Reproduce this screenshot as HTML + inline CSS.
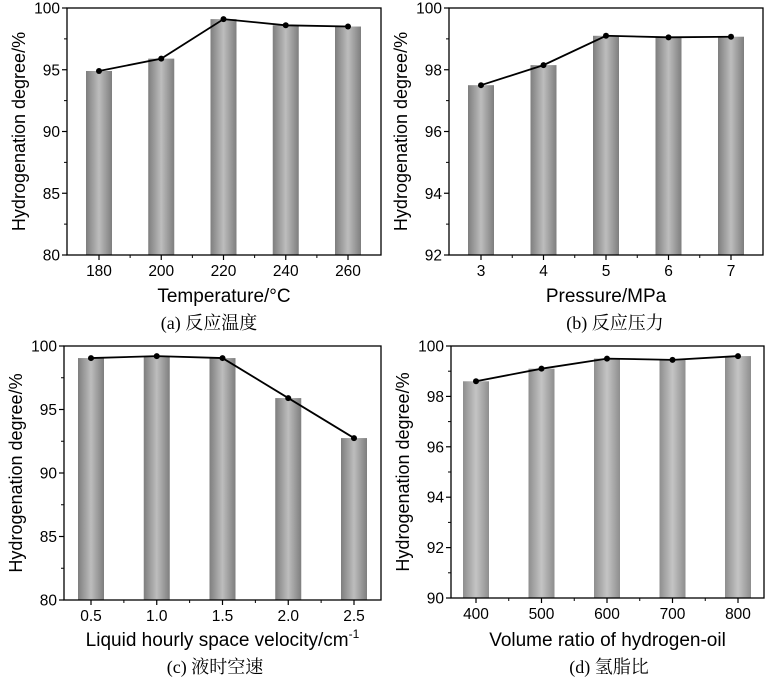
<!DOCTYPE html>
<html><head><meta charset="utf-8">
<style>
html,body{margin:0;padding:0;background:#fff;}
svg{display:block;}
text{font-family:"Liberation Sans",Arial,sans-serif;fill:#000;}
.cap{font-family:"Liberation Serif","Noto Serif CJK SC",serif;}
</style></head>
<body>
<svg id="fig" width="771" height="683" viewBox="0 0 771 683" xmlns="http://www.w3.org/2000/svg">
<defs>
<linearGradient id="barGrad" x1="0" x2="1" y1="0" y2="0">
<stop offset="0" stop-color="#7e7e7e"/><stop offset="0.5" stop-color="#bdbdbd"/><stop offset="1" stop-color="#7e7e7e"/>
</linearGradient>
<linearGradient id="barGradLight" x1="0" x2="1" y1="0" y2="0">
<stop offset="0" stop-color="#8e8e8e"/><stop offset="0.5" stop-color="#c4c4c4"/><stop offset="1" stop-color="#8e8e8e"/>
</linearGradient>
</defs>
</svg>
<script>
// Panel (a)
const catsA = ["180","200","220","240","260"];
const valsA = [94.9, 95.9, 99.1, 98.6, 98.5];
const ticksA = [80, 85, 90, 95, 100];
// Panel (b)
const catsB = ["3","4","5","6","7"];
const valsB = [97.5, 98.15, 99.1, 99.05, 99.07];
const ticksB = [92, 94, 96, 98, 100];
// Panel (c)
const catsC = ["0.5","1.0","1.5","2.0","2.5"];
const valsC = [99.05, 99.2, 99.05, 95.9, 92.75];
const ticksC = [80, 85, 90, 95, 100];
// Panel (d)
const catsD = ["400","500","600","700","800"];
const valsD = [98.6, 99.1, 99.5, 99.45, 99.6];
const ticksD = [90, 92, 94, 96, 98, 100];

const NS = "http://www.w3.org/2000/svg";
const svg = document.getElementById("fig");
function mk(tag, attrs, parent) {
  const e = document.createElementNS(NS, tag);
  for (const k in attrs) e.setAttribute(k, attrs[k]);
  (parent || svg).appendChild(e);
  return e;
}

const panels = [
  {id:"a", cats:catsA, vals:valsA, ticks:ticksA, L:67, R:381, T:8, B:255, c0:99, c1:348, xt:"Temperature/°C", cap:"(a) 反应温度", titleY:302, capY:329, capX:209, grad:"barGrad"},
  {id:"b", cats:catsB, vals:valsB, ticks:ticksB, L:449, R:763, T:8, B:255, c0:481, c1:731, xt:"Pressure/MPa", cap:"(b) 反应压力", titleY:302, capY:329, capX:615, grad:"barGrad"},
  {id:"c", cats:catsC, vals:valsC, ticks:ticksC, L:64, R:381, T:346, B:600, c0:91, c1:354, xt:"Liquid hourly space velocity/cm", sup:"-1", cap:"(c) 液时空速", titleY:646, capY:673, capX:215, grad:"barGrad"},
  {id:"d", cats:catsD, vals:valsD, ticks:ticksD, L:451, R:764, T:346, B:598, c0:476, c1:738, xt:"Volume ratio of hydrogen-oil", cap:"(d) 氢脂比", titleY:646, capY:673, capX:609, grad:"barGradLight"}
];

panels.forEach(p => {
  const g = mk("g", {});
  
  
  const ymin = p.ticks[0], ymax = p.ticks[p.ticks.length - 1];
  const yS = v => p.B - (v - ymin) / (ymax - ymin) * (p.B - p.T);
  const n = p.cats.length;
  const xS = i => p.c0 + i * (p.c1 - p.c0) / (n - 1);
  const bw = 26;
  p.vals.forEach((v, i) => {
    const r = mk("rect", {x: xS(i) - bw/2, y: yS(v), width: bw, height: p.B - yS(v), fill: "url(#" + p.grad + ")"}, g);
    
    
  });
  const pts = p.vals.map((v, i) => xS(i) + "," + yS(v)).join(" ");
  const pl = mk("polyline", {points: pts, fill: "none", stroke: "#000", "stroke-width": 1.8}, g);
  
  
  p.vals.forEach((v, i) => {
    const c = mk("circle", {cx: xS(i), cy: yS(v), r: 3, fill: "#000"}, g);
    
    
  });
  const fr = mk("rect", {x: p.L, y: p.T, width: p.R - p.L, height: p.B - p.T, fill: "none", stroke: "#000", "stroke-width": 1.3}, g);
  
  
  p.ticks.forEach((t, k) => {
    const y = yS(t);
    mk("line", {x1: p.L, x2: p.L - 5, y1: y, y2: y, stroke: "#000", "stroke-width": 1.2}, g);
    const lb = mk("text", {x: p.L - 7, y: y + 5.5, "text-anchor": "end", "font-size": 15.5}, g);
    lb.textContent = t;
    
    
    if (k < p.ticks.length - 1) {
      const ym = yS((t + p.ticks[k+1]) / 2);
      mk("line", {x1: p.L, x2: p.L - 3, y1: ym, y2: ym, stroke: "#000", "stroke-width": 1}, g);
    }
  });
  p.cats.forEach((c, i) => {
    const x = xS(i);
    mk("line", {x1: x, x2: x, y1: p.B, y2: p.B + 5, stroke: "#000", "stroke-width": 1.2}, g);
    const lb = mk("text", {x: x, y: p.B + 21, "text-anchor": "middle", "font-size": 15.5}, g);
    lb.textContent = c;
    
    
    if (i < n - 1) {
      const xm = (x + xS(i + 1)) / 2;
      mk("line", {x1: xm, x2: xm, y1: p.B, y2: p.B + 3, stroke: "#000", "stroke-width": 1}, g);
    }
  });
  const xt = mk("text", {x: (p.L + p.R) / 2, y: p.titleY, "text-anchor": "middle", "font-size": 19}, g);
  xt.textContent = p.xt;
  if (p.sup) {
    const s = mk("tspan", {dy: -8, "font-size": 12}, xt);
    s.textContent = p.sup;
  }
  
  
  const cy = (p.T + p.B) / 2;
  const yt = mk("text", {x: 0, y: 0, "text-anchor": "middle", "font-size": 18, transform: "translate(" + (p.L - 42) + "," + cy + ") rotate(-90)"}, g);
  yt.textContent = "Hydrogenation degree/%";
  
  
  const cp = mk("text", {x: p.capX, y: p.capY, "text-anchor": "middle", "font-size": 18, class: "cap"}, g);
  cp.textContent = p.cap;
  
  
});
</script>
</body></html>
